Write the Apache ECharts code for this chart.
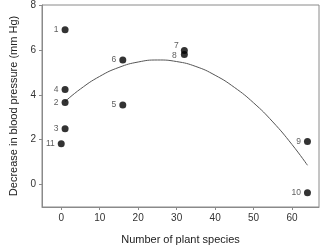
<!DOCTYPE html>
<html><head><meta charset="utf-8">
<script src="https://cdn.jsdelivr.net/npm/echarts@6/dist/echarts.min.js"></script>
<style>html,body{margin:0;padding:0;background:#fff}#c{width:320px;height:250px}</style>
</head><body><div id="c"></div>
<script>
const pointIds = ['1','2','3','4','5','6','7','8','9','10','11'];
const speciesX = [1, 1, 1, 1, 16, 16, 32, 32, 64, 64, 0];
const bpDecrease = [6.90, 3.66, 2.49, 4.23, 3.54, 5.55, 5.97, 5.80, 1.92, -0.36, 1.82];
const curveX = [1, 5, 10, 15, 20, 25, 30, 35, 40, 45, 50, 55, 60, 64];
const curveY = [3.70, 4.26, 4.82, 5.22, 5.46, 5.55, 5.48, 5.26, 4.87, 4.33, 3.64, 2.79, 1.78, 0.86];
const xTicks = [0, 10, 20, 30, 40, 50, 60];
const yTicks = [0, 2, 4, 6, 8];

const font = 'Liberation Sans, Arial, sans-serif';
const pts = pointIds.map((id, i) => {
  const d = { value: [speciesX[i], bpDecrease[i]], name: id };
  if (id === '7') d.label = { position: 'left', offset: [1, -5] };
  if (id === '8') d.label = { position: 'left', offset: [-1, 1] };
  return d;
});
const chart = echarts.init(document.getElementById('c'), null, { renderer: 'canvas' });
chart.setOption({
  animation: false,
  grid: { left: 30, right: 1, top: 4, bottom: 39, show: true, borderColor: '#8a8a8a', borderWidth: 1 },
  xAxis: {
    type: 'value', min: -5, max: 67,
    name: 'Number of plant species', nameLocation: 'middle', nameGap: 27,
    nameTextStyle: { fontFamily: font, fontSize: 11, color: '#222' },
    axisLine: { show: true, onZero: false, lineStyle: { color: '#8a8a8a', width: 1 } },
    axisTick: { show: true, length: 3, lineStyle: { color: '#8a8a8a' }, customValues: xTicks },
    axisLabel: { fontFamily: font, fontSize: 10, color: '#333', margin: 6, customValues: xTicks },
    splitLine: { show: false }
  },
  yAxis: {
    type: 'value', min: -1, max: 8,
    name: 'Decrease in blood pressure (mm Hg)', nameLocation: 'middle', nameGap: 23, nameRotate: 90,
    nameTextStyle: { fontFamily: font, fontSize: 11, color: '#222' },
    axisLine: { show: true, onZero: false, lineStyle: { color: '#8a8a8a', width: 1 } },
    axisTick: { show: true, length: 3, lineStyle: { color: '#8a8a8a' }, customValues: yTicks },
    axisLabel: { fontFamily: font, fontSize: 10, color: '#333', margin: 6, customValues: yTicks },
    splitLine: { show: false }
  },
  series: [
    {
      type: 'line', data: curveX.map((x, i) => [x, curveY[i]]), smooth: true, symbol: 'none',
      lineStyle: { color: '#555', width: 1 }, z: 1
    },
    {
      type: 'scatter', data: pts, symbolSize: 7, itemStyle: { color: '#000' }, z: 2,
      label: { show: true, position: 'left', distance: 3, formatter: p => p.name,
        fontFamily: font, fontSize: 8.5, color: '#333' }
    }
  ]
});
</script></body></html>
